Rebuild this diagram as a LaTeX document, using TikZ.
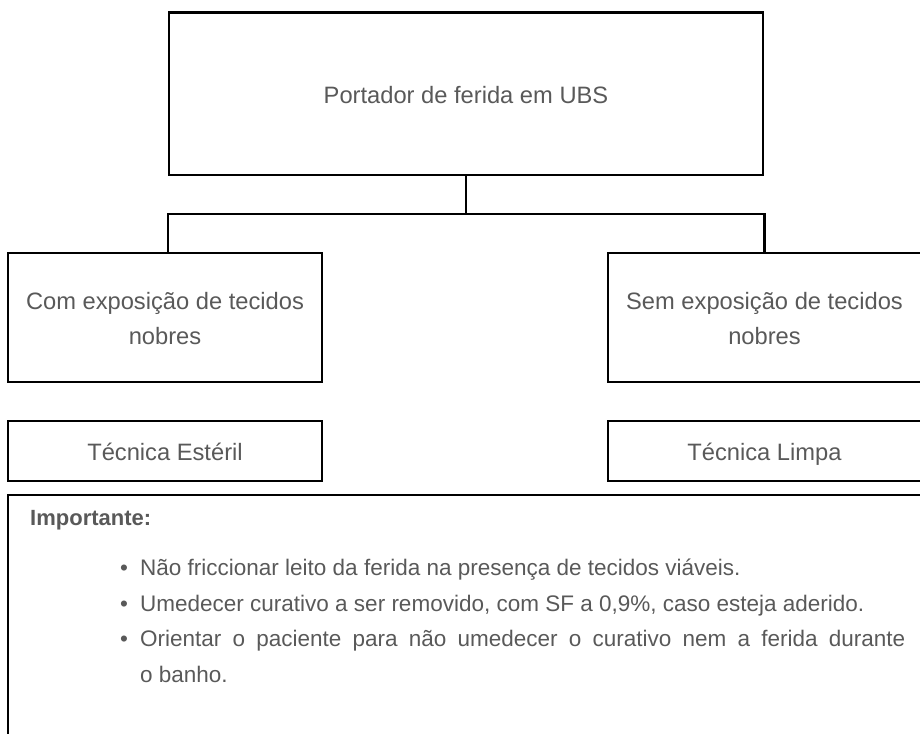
\documentclass[tikz,border=0pt]{standalone}
\usepackage{fontspec}
\setmainfont{Liberation Sans}
\definecolor{txtgray}{RGB}{89,89,89}
\newcommand{\fsz}[2]{\fontsize{#1pt}{#2pt}\selectfont}
\tikzset{
  box/.style={draw=black, line width=2.5pt, inner sep=0pt, text=txtgray, align=center, font=\fsz{23.7}{35}},
  conn/.style={draw=black, line width=2.5pt},
  lbl/.style={text=txtgray, inner sep=0pt, font=\fsz{23.7}{35}},
  itm/.style={text=txtgray, inner sep=0pt, font=\fsz{22.5}{35.5}, anchor=base west},
  bul/.style={text=txtgray, inner sep=0pt, font=\fsz{22.5}{35.5}, anchor=base}
}
\begin{document}
\begin{tikzpicture}[x=1pt,y=-1pt]
\useasboundingbox (0,0) rectangle (920,733);
\clip (0,0) rectangle (920,733);
% boxes
\node[box, minimum width=594pt, minimum height=162.5pt] (top) at (466,93.75) {};
\node[box, minimum width=314pt, minimum height=129pt] (lb) at (165,317.5) {};
\node[box, minimum width=313pt, minimum height=129pt] (rb) at (764.5,317.5) {};
\node[box, minimum width=314pt, minimum height=60pt] (lt) at (165,451) {};
\node[box, minimum width=313pt, minimum height=60pt] (rt) at (764.5,451) {};
\node[box, minimum width=917pt, minimum height=265pt] (imp) at (466.5,627.5) {};
% texts
\node[lbl, anchor=base] (ttop) at (466,103.3) {Portador de ferida em UBS};
\node[lbl, anchor=base] (tlb1) at (165,309.5) {Com exposição de tecidos};
\node[lbl, anchor=base] (tlb2) at (165,344.5) {nobres};
\node[lbl, anchor=base] (trb1) at (764.5,309.5) {Sem exposição de tecidos};
\node[lbl, anchor=base] (trb2) at (764.5,344.5) {nobres};
\node[lbl, anchor=base] (tlt) at (165,460) {Técnica Estéril};
\node[lbl, anchor=base] (trt) at (764.5,460) {Técnica Limpa};
\node[itm, font=\fsz{22}{35.5}\bfseries] (imph) at (30,525) {Importante:};
\node[bul] (b1) at (124,575) {•};
\node[bul] (b2) at (124,611) {•};
\node[bul] (b3) at (124,646.5) {•};
\node[itm] (i1) at (140,575) {Não friccionar leito da ferida na presença de tecidos viáveis.};
\node[itm] (i2) at (140,611) {Umedecer curativo a ser removido, com SF a 0,9\%, caso esteja aderido.};
\node[itm] (i3) at (140,646.5) {\makebox[765pt][s]{Orientar o paciente para não umedecer o curativo nem a ferida durante}};
\node[itm] (i4) at (140,682) {o banho.};
% connectors
\coordinate (j) at (466,214);
\draw[conn] (top.south) -- (j);
\draw[conn] (top.west |- lb.north) -- (top.west |- j) -- (top.east |- j) -- (top.east |- rb.north);
\end{tikzpicture}
\end{document}
